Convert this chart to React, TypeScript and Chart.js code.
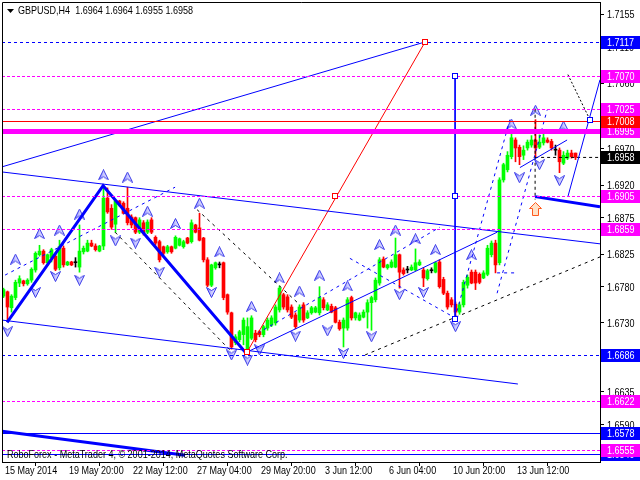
import React, { useEffect, useRef } from "react";
import { Chart, registerables } from "chart.js";

Chart.register(...registerables);

const FONT = "'Liberation Sans', Arial, sans-serif";
const SQUEEZE = 0.82;

// ---- candle data (H4 bars, GBPUSD) ----
const opens = [
  1.6767, 1.6773, 1.6751, 1.6765, 1.6785, 1.6788, 1.6784, 1.6789, 1.6803, 1.6824,
  1.6829, 1.6813, 1.6820, 1.6822, 1.6806, 1.6833, 1.6810, 1.6814, 1.6813, 1.6807,
  1.6828, 1.6829, 1.6840, 1.6836, 1.6829, 1.6836, 1.6902, 1.6888, 1.6866, 1.6898,
  1.6895, 1.6888, 1.6876, 1.6875, 1.6855, 1.6868, 1.6855, 1.6872, 1.6848, 1.6842,
  1.6835, 1.6828, 1.6835, 1.6833, 1.6837, 1.6835, 1.6847, 1.6842, 1.6865, 1.6861,
  1.6847, 1.6817, 1.6782, 1.6806, 1.6810, 1.6813, 1.6769, 1.6744, 1.6703, 1.6707,
  1.6714, 1.6693, 1.6709, 1.6716, 1.6718, 1.6714, 1.6723, 1.6727, 1.6730, 1.6748,
  1.6769, 1.6766, 1.6752, 1.6741, 1.6734, 1.6755, 1.6737, 1.6744, 1.6745, 1.6744,
  1.6762, 1.6748, 1.6753, 1.6751, 1.6731, 1.6723, 1.6723, 1.6765, 1.6737, 1.6734,
  1.6738, 1.6745, 1.6758, 1.6762, 1.6785, 1.6818, 1.6806, 1.6807, 1.6807, 1.6824,
  1.6803, 1.6803, 1.6803, 1.6803, 1.6810, 1.6803, 1.6791, 1.6802, 1.6800, 1.6814,
  1.6790, 1.6771, 1.6762, 1.6756, 1.6745, 1.6755, 1.6782, 1.6800, 1.6800, 1.6797,
  1.6792, 1.6797, 1.6824, 1.6840, 1.6813, 1.6927, 1.6941, 1.6959, 1.6982, 1.6972,
  1.6961, 1.6971, 1.6975, 1.6982, 1.6972, 1.6978, 1.6982, 1.6980, 1.6968, 1.6968,
  1.6950, 1.6957, 1.6964, 1.6964,
];
const highs = [
  1.6778, 1.6774, 1.6769, 1.6789, 1.6795, 1.6789, 1.6791, 1.6806, 1.6828, 1.6837,
  1.6831, 1.6825, 1.6833, 1.6825, 1.6844, 1.6836, 1.6815, 1.6815, 1.6820, 1.6865,
  1.6836, 1.6844, 1.6844, 1.6839, 1.6837, 1.6919, 1.6916, 1.6893, 1.6899, 1.6899,
  1.6897, 1.6917, 1.6879, 1.6876, 1.6875, 1.6871, 1.6872, 1.6875, 1.6850, 1.6844,
  1.6836, 1.6837, 1.6836, 1.6850, 1.6847, 1.6844, 1.6848, 1.6872, 1.6866, 1.6881,
  1.6848, 1.6820, 1.6811, 1.6814, 1.6814, 1.6814, 1.6770, 1.6745, 1.6714, 1.6720,
  1.6737, 1.6737, 1.6740, 1.6720, 1.6720, 1.6727, 1.6737, 1.6740, 1.6755, 1.6781,
  1.6771, 1.6769, 1.6755, 1.6744, 1.6755, 1.6758, 1.6747, 1.6753, 1.6753, 1.6780,
  1.6765, 1.6758, 1.6756, 1.6753, 1.6734, 1.6737, 1.6765, 1.6767, 1.6745, 1.6744,
  1.6748, 1.6762, 1.6767, 1.6792, 1.6820, 1.6821, 1.6811, 1.6817, 1.6847, 1.6825,
  1.6806, 1.6808, 1.6810, 1.6832, 1.6817, 1.6806, 1.6804, 1.6806, 1.6814, 1.6817,
  1.6793, 1.6774, 1.6765, 1.6759, 1.6758, 1.6789, 1.6796, 1.6803, 1.6803, 1.6799,
  1.6802, 1.6837, 1.6843, 1.6844, 1.6930, 1.6950, 1.6966, 1.6990, 1.6985, 1.6975,
  1.6974, 1.6982, 1.6988, 1.7010, 1.6989, 1.6993, 1.6985, 1.6983, 1.6975, 1.6971,
  1.6966, 1.6968, 1.6968, 1.6964,
];
const lows = [
  1.6765, 1.6734, 1.6745, 1.6762, 1.6780, 1.6781, 1.6782, 1.6786, 1.6800, 1.6822,
  1.6811, 1.6810, 1.6814, 1.6802, 1.6803, 1.6807, 1.6809, 1.6809, 1.6807, 1.6800,
  1.6825, 1.6828, 1.6835, 1.6829, 1.6828, 1.6831, 1.6881, 1.6859, 1.6855, 1.6891,
  1.6880, 1.6865, 1.6861, 1.6853, 1.6853, 1.6851, 1.6853, 1.6853, 1.6837, 1.6814,
  1.6824, 1.6826, 1.6826, 1.6832, 1.6836, 1.6833, 1.6839, 1.6840, 1.6854, 1.6843,
  1.6814, 1.6780, 1.6780, 1.6804, 1.6806, 1.6762, 1.6742, 1.6694, 1.6700, 1.6704,
  1.6700, 1.6690, 1.6707, 1.6704, 1.6711, 1.6711, 1.6720, 1.6725, 1.6727, 1.6745,
  1.6749, 1.6745, 1.6736, 1.6722, 1.6731, 1.6731, 1.6736, 1.6742, 1.6744, 1.6741,
  1.6748, 1.6747, 1.6744, 1.6730, 1.6720, 1.6697, 1.6720, 1.6734, 1.6734, 1.6733,
  1.6737, 1.6723, 1.6720, 1.6759, 1.6782, 1.6806, 1.6804, 1.6806, 1.6806, 1.6778,
  1.6796, 1.6799, 1.6802, 1.6802, 1.6809, 1.6780, 1.6789, 1.6799, 1.6799, 1.6778,
  1.6769, 1.6749, 1.6752, 1.6737, 1.6742, 1.6752, 1.6778, 1.6784, 1.6776, 1.6784,
  1.6791, 1.6795, 1.6821, 1.6799, 1.6810, 1.6924, 1.6938, 1.6956, 1.6952, 1.6948,
  1.6955, 1.6968, 1.6972, 1.6959, 1.6970, 1.6975, 1.6978, 1.6968, 1.6961, 1.6937,
  1.6948, 1.6955, 1.6957, 1.6955,
];
const closes = [
  1.6776, 1.6752, 1.6767, 1.6786, 1.6791, 1.6784, 1.6789, 1.6804, 1.6826, 1.6829,
  1.6813, 1.6824, 1.6831, 1.6804, 1.6835, 1.6810, 1.6814, 1.6810, 1.6813, 1.6829,
  1.6833, 1.6840, 1.6836, 1.6831, 1.6836, 1.6902, 1.6883, 1.6862, 1.6898, 1.6893,
  1.6881, 1.6868, 1.6865, 1.6855, 1.6872, 1.6854, 1.6869, 1.6855, 1.6840, 1.6817,
  1.6826, 1.6835, 1.6828, 1.6848, 1.6846, 1.6842, 1.6840, 1.6868, 1.6855, 1.6844,
  1.6817, 1.6782, 1.6810, 1.6813, 1.6810, 1.6765, 1.6745, 1.6697, 1.6711, 1.6718,
  1.6734, 1.6725, 1.6737, 1.6707, 1.6714, 1.6725, 1.6734, 1.6737, 1.6752, 1.6778,
  1.6752, 1.6748, 1.6738, 1.6725, 1.6752, 1.6734, 1.6744, 1.6751, 1.6751, 1.6765,
  1.6751, 1.6755, 1.6745, 1.6731, 1.6722, 1.6734, 1.6762, 1.6737, 1.6744, 1.6741,
  1.6745, 1.6758, 1.6765, 1.6789, 1.6817, 1.6807, 1.6810, 1.6814, 1.6824, 1.6800,
  1.6798, 1.6803, 1.6807, 1.6813, 1.6814, 1.6792, 1.6802, 1.6802, 1.6813, 1.6780,
  1.6771, 1.6752, 1.6755, 1.6745, 1.6755, 1.6786, 1.6793, 1.6785, 1.6785, 1.6786,
  1.6799, 1.6833, 1.6840, 1.6810, 1.6927, 1.6948, 1.6961, 1.6985, 1.6971, 1.6959,
  1.6968, 1.6979, 1.6982, 1.6971, 1.6979, 1.6985, 1.6979, 1.6971, 1.6968, 1.6952,
  1.6961, 1.6964, 1.6959, 1.6958,
];

// ---- axes ----
const timeTickBars = [0, 16, 32, 48, 64, 80, 96, 112, 128];
const timeTickLabels = [
  "15 May 2014", "19 May 20:00", "22 May 12:00", "27 May 04:00", "29 May 20:00",
  "3 Jun 12:00", "6 Jun 04:00", "10 Jun 20:00", "13 Jun 12:00",
];
const priceTicks = [
  1.7155, 1.711, 1.706, 1.7015, 1.697, 1.692, 1.6875, 1.6825, 1.678, 1.673,
  1.6685, 1.6635, 1.659, 1.6545,
];
const priceMin = 1.65386;
const priceMax = 1.7172;
const barMin = -0.375;
const barMax = 149.125;

// ---- horizontal levels ----
const levelPrices = [1.7117, 1.707, 1.7025, 1.7008, 1.6995, 1.6905, 1.6859, 1.6686, 1.6622, 1.6578, 1.6555, 1.6549];
const levelKinds = ["blueDash", "magDash", "magDash", "redSolid", "magThick", "magDash", "magDash", "blueDash", "magDash", "blueSolid", "magDash", "blueSolid"];
const lastPrice = 1.6958;

// ---- fractals ----
const upFractalBars = [3, 9, 14, 19, 25, 31, 36, 43, 49, 54, 62, 69, 74, 79, 86, 94, 98, 103, 108, 117, 127, 133, 140];
const upFractalPrices = [1.6818, 1.6853, 1.6858, 1.688, 1.6934, 1.6931, 1.6884, 1.6867, 1.6895, 1.6828, 1.6753, 1.6792, 1.6774, 1.6796, 1.6781, 1.6838, 1.6858, 1.6846, 1.6831, 1.6824, 1.7004, 1.7023, 1.7001];
const downFractalBars = [1, 8, 13, 19, 28, 33, 39, 52, 57, 61, 64, 73, 81, 85, 92, 99, 105, 113, 129, 134, 139];
const downFractalPrices = [1.6718, 1.6772, 1.6794, 1.6789, 1.6843, 1.684, 1.68, 1.6772, 1.6686, 1.6679, 1.6693, 1.6712, 1.6719, 1.6688, 1.6711, 1.6769, 1.6772, 1.6725, 1.693, 1.6948, 1.6926];

// ---- drawn trend lines: [bar, price] pairs ----
const longBlueLine = [[-0.375, 1.6945], [105.4, 1.7117]];
const channelTop = [[-0.375, 1.6938], [149.125, 1.6839]];
const channelBottom = [[-0.375, 1.6734], [128.6, 1.6646]];
const risingBlueLine = [[60.9, 1.669], [123.4, 1.6855]];
const redLine = [[60.9, 1.669], [105.4, 1.7117]];
const verticalBlue = [[112.9, 1.707], [112.9, 1.6735]];
const zigzagThick = [[0.9, 1.6731], [24.9, 1.6919], [60.4, 1.669]];
const bottomThick = [[-0.375, 1.6581], [45.4, 1.6548]];
const shortThick = [[132.9, 1.6904], [149.125, 1.689]];
const forecastBlue = [[141.1, 1.6904], [149.125, 1.7065]];
const smallBlue = [[129.1, 1.6944], [140.9, 1.6982]];
const forecastBlack = [[141.1, 1.7072], [146.6, 1.701]];
const blackVertical = [[132.9, 1.7025], [132.9, 1.69]];
const blackHorizontal = [[132.9, 1.6958], [149.125, 1.6958]];
const blackDash1 = [[27.9, 1.6855], [57.1, 1.669]];
const blackDash2 = [[48.4, 1.6886], [74.1, 1.6755]];
const blackDash3 = [[90.4, 1.6686], [149.125, 1.6821]];
const blueDash1 = [[0.4, 1.6796], [42.9, 1.6917]];
const blueDash2 = [[112.9, 1.6737], [126.6, 1.701]];
const blueDash3 = [[123.4, 1.6771], [135.9, 1.7023]];
const blueDash4 = [[63.6, 1.6716], [109.1, 1.6862]];
const blueDash5 = [[86.6, 1.6819], [112.9, 1.6737]];
const blueDash6 = [[123.4, 1.6799], [128.4, 1.6799]];
const redSquares = [[60.9, 1.669], [82.9, 1.6905], [105.4, 1.7117]];
const blueSquares = [[112.9, 1.707], [112.9, 1.6905], [112.9, 1.6735], [146.6, 1.701]];
const buyArrow = [132.9, 1.6887];

const headerText = "GBPUSD,H4  1.6964 1.6964 1.6955 1.6958";
const copyrightText = "RoboForex - MetaTrader 4, \u00A9 2001-2014, MetaQuotes Software Corp.";

const STYLE: Record<string, { color: string; width: number; dash: number[] }> = {
  blueDash: { color: "#0000ff", width: 1, dash: [3, 3] },
  magDash: { color: "#ff00ff", width: 1, dash: [3, 2] },
  redSolid: { color: "#ff0000", width: 1, dash: [] },
  magThick: { color: "#ff00ff", width: 5, dash: [] },
  blueSolid: { color: "#0000ff", width: 1, dash: [] },
};
const LABEL_BG: Record<string, string> = {
  blueDash: "#0000ff",
  magDash: "#ff00ff",
  redSolid: "#ff0000",
  magThick: "#ff00ff",
  blueSolid: "#0000ff",
};

function seg(pts: number[][], color: string, width: number, dash: number[] = []) {
  return {
    type: "line" as const,
    data: pts.map(([x, y]) => ({ x, y })),
    borderColor: color,
    borderWidth: width,
    borderDash: dash,
    pointRadius: 0,
    fill: false,
    tension: 0,
    order: 2,
  };
}

function makeArrow(down: boolean) {
  const c = document.createElement("canvas");
  c.width = 11;
  c.height = 11;
  const g = c.getContext("2d")!;
  if (down) {
    g.translate(0, 11);
    g.scale(1, -1);
  }
  g.beginPath();
  g.moveTo(5.5, 0.5);
  g.lineTo(10.5, 10.5);
  g.lineTo(5.5, 7.5);
  g.lineTo(0.5, 10.5);
  g.closePath();
  const grad = g.createLinearGradient(0, 0, 11, 0);
  grad.addColorStop(0, "#6a6aff");
  grad.addColorStop(0.5, "#c8c8ff");
  grad.addColorStop(1, "#ededff");
  g.fillStyle = grad;
  g.fill();
  g.strokeStyle = "#3b3be8";
  g.lineWidth = 1;
  g.stroke();
  return c;
}

function squeezedText(ctx: CanvasRenderingContext2D, text: string, x: number, y: number) {
  ctx.save();
  ctx.translate(x, y);
  ctx.scale(SQUEEZE, 1);
  ctx.fillText(text, 0, 0);
  ctx.restore();
}

const overlayPlugin = {
  id: "overlay",
  afterDatasetsDraw(chart: any) {
    const { ctx, chartArea, scales } = chart;
    const xs = scales.x;
    const ys = scales.y;
    ctx.save();
    ctx.beginPath();
    ctx.rect(chartArea.left, chartArea.top, chartArea.right - chartArea.left, chartArea.bottom - chartArea.top);
    ctx.clip();
    levelPrices.forEach((p, k) => {
      const st = STYLE[levelKinds[k]];
      const y = Math.round(ys.getPixelForValue(p)) + (st.width % 2 ? 0.5 : 0);
      ctx.strokeStyle = st.color;
      ctx.lineWidth = st.width;
      ctx.setLineDash(st.dash);
      ctx.beginPath();
      ctx.moveTo(chartArea.left, y);
      ctx.lineTo(chartArea.right, y);
      ctx.stroke();
    });
    ctx.setLineDash([]);
    const sq = (pt: number[], color: string) => {
      const x = Math.round(xs.getPixelForValue(pt[0]));
      const y = Math.round(ys.getPixelForValue(pt[1]));
      ctx.fillStyle = "#fff";
      ctx.fillRect(x - 3, y - 3, 6, 6);
      ctx.strokeStyle = color;
      ctx.lineWidth = 1;
      ctx.strokeRect(x - 2.5, y - 2.5, 5, 5);
    };
    redSquares.forEach((p) => sq(p, "#ff0000"));
    blueSquares.forEach((p) => sq(p, "#0000ff"));
    const bx = Math.round(xs.getPixelForValue(buyArrow[0])) + 0.5;
    const by = Math.round(ys.getPixelForValue(buyArrow[1])) + 0.5;
    ctx.beginPath();
    ctx.moveTo(bx, by - 7);
    ctx.lineTo(bx + 6, by - 1);
    ctx.lineTo(bx + 3, by - 1);
    ctx.lineTo(bx + 3, by + 6);
    ctx.lineTo(bx - 3, by + 6);
    ctx.lineTo(bx - 3, by - 1);
    ctx.lineTo(bx - 6, by - 1);
    ctx.closePath();
    ctx.fillStyle = "#ffe2c8";
    ctx.fill();
    ctx.strokeStyle = "#ff5a1e";
    ctx.stroke();
    ctx.restore();
  },
  afterDraw(chart: any) {
    const { ctx, chartArea, scales } = chart;
    const xs = scales.x;
    const ys = scales.y;
    ctx.save();
    ctx.strokeStyle = "#000";
    ctx.lineWidth = 1;
    ctx.beginPath();
    ctx.moveTo(chartArea.left + 0.5, chartArea.bottom);
    ctx.lineTo(chartArea.left + 0.5, chartArea.top + 0.5);
    ctx.lineTo(chartArea.right, chartArea.top + 0.5);
    ctx.stroke();
    ctx.fillStyle = "#000";
    ctx.font = `11px ${FONT}`;
    ctx.textBaseline = "middle";
    ctx.textAlign = "left";
    // axis labels
    timeTickBars.forEach((b, k) => {
      squeezedText(ctx, timeTickLabels[k], Math.round(xs.getPixelForValue(b)) + 1, chartArea.bottom + 9);
    });
    priceTicks.forEach((p) => {
      squeezedText(ctx, p.toFixed(4), chartArea.right + 7, Math.round(ys.getPixelForValue(p)) + 0.5);
    });
    // header
    ctx.beginPath();
    ctx.moveTo(7, 9);
    ctx.lineTo(14, 9);
    ctx.lineTo(10.5, 13);
    ctx.closePath();
    ctx.fill();
    squeezedText(ctx, headerText, 18, 11);
    squeezedText(ctx, copyrightText, 7, 455);
    const drawLabel = (p: number, bg: string) => {
      const y = Math.round(ys.getPixelForValue(p));
      ctx.fillStyle = bg;
      ctx.fillRect(chartArea.right + 1, y - 6, 640 - chartArea.right - 1, 13);
      ctx.fillStyle = "#fff";
      squeezedText(ctx, p.toFixed(4), chartArea.right + 7, y + 0.5);
    };
    const order = levelPrices.map((_p, k) => k).reverse();
    order.forEach((k) => drawLabel(levelPrices[k], LABEL_BG[levelKinds[k]]));
    drawLabel(lastPrice, "#000000");
    ctx.restore();
  },
};

export default function App() {
  const ref = useRef<HTMLCanvasElement | null>(null);
  useEffect(() => {
    if (!ref.current) return;
    Chart.defaults.font.family = FONT;
    Chart.defaults.font.size = 11;
    const n = closes.length;
    const idx = Array.from({ length: n }, (_, i) => i);
    const candleColor = idx.map((i) =>
      closes[i] > opens[i] ? "#00ff00" : closes[i] < opens[i] ? "#ff0000" : "#000000"
    );
    const wicks = idx.map((i) => ({ x: i, y: [lows[i], highs[i]] }));
    const bodies = idx.map((i) => ({ x: i, y: [Math.min(opens[i], closes[i]), Math.max(opens[i], closes[i])] }));
    const upArrow = makeArrow(false);
    const downArrow = makeArrow(true);

    const chart = new Chart(ref.current, {
      type: "bar",
      data: {
        datasets: [
          seg(longBlueLine, "#0000ff", 1),
          seg(channelTop, "#0000ff", 1),
          seg(channelBottom, "#0000ff", 1),
          seg(risingBlueLine, "#0000ff", 1),
          seg(redLine, "#ff0000", 1),
          seg(verticalBlue, "#0000ff", 1),
          seg(zigzagThick, "#0000ff", 3),
          seg(bottomThick, "#0000ff", 3),
          seg(shortThick, "#0000ff", 3),
          seg(forecastBlue, "#0000ff", 1),
          seg(smallBlue, "#0000ff", 1),
          seg(forecastBlack, "#000000", 1, [2, 2]),
          seg(blackVertical, "#000000", 1, [3, 3]),
          seg(blackHorizontal, "#000000", 1, [3, 3]),
          seg(blackDash1, "#000000", 1, [3, 4]),
          seg(blackDash2, "#000000", 1, [3, 4]),
          seg(blackDash3, "#000000", 1, [3, 4]),
          seg(blueDash1, "#0000ff", 1, [3, 4]),
          seg(blueDash2, "#0000ff", 1, [3, 4]),
          seg(blueDash3, "#0000ff", 1, [3, 4]),
          seg(blueDash4, "#0000ff", 1, [3, 4]),
          seg(blueDash5, "#0000ff", 1, [3, 4]),
          seg(blueDash6, "#0000ff", 1, [3, 4]),
          {
            type: "line" as const,
            data: upFractalBars.map((b, k) => ({ x: b, y: upFractalPrices[k] })),
            showLine: false,
            pointStyle: upArrow,
            order: 5,
          },
          {
            type: "line" as const,
            data: downFractalBars.map((b, k) => ({ x: b, y: downFractalPrices[k] })),
            showLine: false,
            pointStyle: downArrow,
            order: 5,
          },
          {
            type: "bar" as const,
            data: bodies as any,
            backgroundColor: candleColor,
            barThickness: 3,
            minBarLength: 1,
            grouped: false,
            borderWidth: 0,
            order: 19,
          },
          {
            type: "bar" as const,
            data: wicks as any,
            backgroundColor: candleColor,
            barThickness: 1,
            grouped: false,
            borderWidth: 0,
            order: 20,
          },
        ] as any,
      },
      options: {
        animation: false,
        responsive: false,
        maintainAspectRatio: false,
        events: [],
        layout: { autoPadding: false, padding: { left: 2, top: 2, right: 0, bottom: 0 } },
        plugins: { legend: { display: false }, tooltip: { enabled: false } },
        scales: {
          x: {
            type: "linear",
            min: barMin,
            max: barMax,
            offset: false,
            afterBuildTicks: (s: any) => {
              s.ticks = timeTickBars.map((v) => ({ value: v }));
            },
            afterFit: (s: any) => {
              s.height = 18;
              s.paddingLeft = 0;
              s.paddingRight = 0;
            },
            ticks: { display: false, autoSkip: false, maxRotation: 0 },
            grid: { drawOnChartArea: false, drawTicks: true, tickLength: 4, color: "#000" },
            border: { display: true, color: "#000" },
          },
          y: {
            type: "linear",
            position: "right",
            min: priceMin,
            max: priceMax,
            afterBuildTicks: (s: any) => {
              s.ticks = priceTicks.map((v) => ({ value: v }));
            },
            afterFit: (s: any) => {
              s.width = 40;
              s.paddingTop = 0;
              s.paddingBottom = 0;
            },
            ticks: { display: false, autoSkip: false },
            grid: { drawOnChartArea: false, drawTicks: true, tickLength: 4, color: "#000" },
            border: { display: true, color: "#000" },
          },
        },
      } as any,
      plugins: [overlayPlugin],
    });
    return () => chart.destroy();
  }, []);

  return (
    <div style={{ position: "fixed", left: 0, top: 0, width: 640, height: 480, background: "#fff" }}>
      <canvas ref={ref} width={640} height={480} style={{ display: "block" }} />
    </div>
  );
}
